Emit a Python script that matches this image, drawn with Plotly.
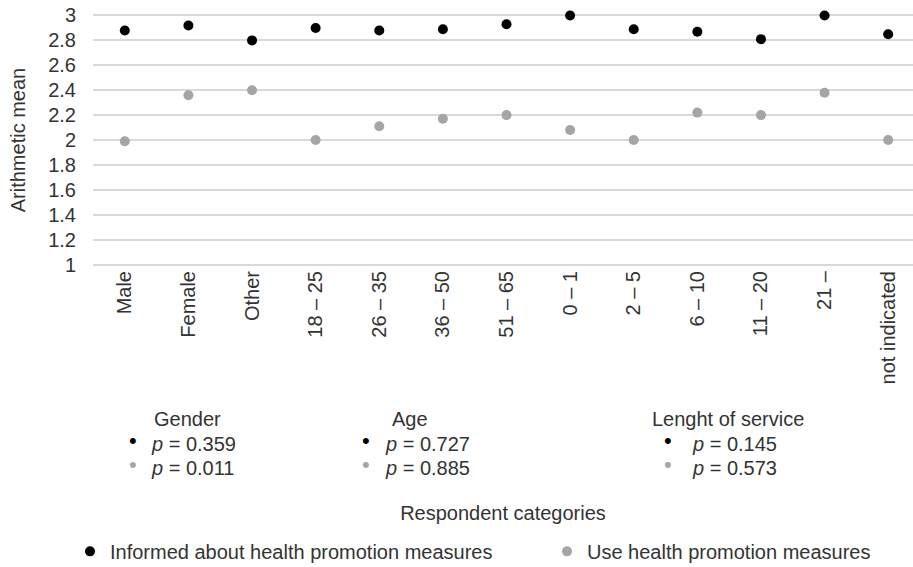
import plotly.graph_objects as go

categories = ["Male", "Female", "Other", "18 – 25", "26 – 35", "36 – 50", "51 – 65",
              "0 – 1", "2 – 5", "6 – 10", "11 – 20", "21 –", "not indicated"]
informed = [2.88, 2.92, 2.80, 2.90, 2.88, 2.89, 2.93, 3.00, 2.89, 2.87, 2.81, 3.00, 2.85]
use = [1.99, 2.36, 2.40, 2.00, 2.11, 2.17, 2.20, 2.08, 2.00, 2.22, 2.20, 2.38, 2.00]

series_names = ["Informed about health promotion measures", "Use health promotion measures"]
series_colors = ["#000000", "#a5a5a5"]

group_names = ["Gender", "Age", "Lenght of service"]
p_informed = ["0.359", "0.727", "0.145"]
p_use = ["0.011", "0.885", "0.573"]

Y_MIN, Y_MAX, Y_PAD = 1.0, 3.0, 0.012   # small pad so the 1 and 3 grid lines are drawn

W, H = 913, 567
PX_PER_UNIT = 125.0
ML = 93
MT = 15 - Y_PAD * PX_PER_UNIT
PH = (Y_MAX - Y_MIN + 2 * Y_PAD) * PX_PER_UNIT
PW = W - ML
MB = H - MT - PH


def sx(x):
    """screen x pixel -> paper x"""
    return (x - ML) / PW


def sy(y):
    """screen y pixel -> paper y"""
    return (MT + PH - y) / PH


FONT = "Liberation Sans, Arial, sans-serif"
TXT = "#333333"

fig = go.Figure()
for name, vals, col, lg in zip(series_names, [informed, use], series_colors, ["legend", "legend2"]):
    fig.add_trace(go.Scatter(
        x=categories, y=vals, mode="markers", name=name,
        marker=dict(color=col, size=10),
        cliponaxis=False, legend=lg,
    ))

# group annotations (p-values)
title_x = [187, 410, 728]
bullet_x = [133, 366, 668]
text_x = [149, 383, 690]
annots = []
for i, g in enumerate(group_names):
    annots.append(dict(x=sx(title_x[i]), y=sy(420), xref="paper", yref="paper",
                       text=g, showarrow=False, xanchor="center", yanchor="middle",
                       font=dict(size=20, color=TXT, family=FONT)))
    for row, (pv, col) in enumerate([(p_informed[i], series_colors[0]), (p_use[i], series_colors[1])]):
        yy = 445 + row * 24
        annots.append(dict(x=sx(bullet_x[i]), y=sy(yy - 3), xref="paper", yref="paper",
                           text="•", showarrow=False, xanchor="center", yanchor="middle",
                           font=dict(size=22, color=col, family=FONT)))
        annots.append(dict(x=sx(text_x[i]), y=sy(yy), xref="paper", yref="paper",
                           text="<i>p</i> = " + pv, showarrow=False, xanchor="left", yanchor="middle",
                           font=dict(size=20, color=TXT, family=FONT)))

legend_style = dict(orientation="h", xanchor="left", yanchor="middle",
                    font=dict(size=20, color=TXT, family=FONT), bgcolor="rgba(0,0,0,0)")

fig.update_layout(
    width=W, height=H,
    margin=dict(l=ML, r=0, t=MT, b=MB, autoexpand=False),
    paper_bgcolor="white", plot_bgcolor="white",
    font=dict(family=FONT, size=20, color=TXT),
    showlegend=True,
    legend=dict(x=sx(70), y=sy(553), **legend_style),
    legend2=dict(x=sx(547), y=sy(553), **legend_style),
    annotations=annots,
    xaxis=dict(
        range=[-0.5, 12.39], showgrid=False, showline=False, zeroline=False,
        tickangle=-90, ticks="", tickfont=dict(size=20, color=TXT),
        title=dict(text="Respondent categories", standoff=122, font=dict(size=20, color=TXT)),
        automargin=False,
    ),
    yaxis=dict(
        range=[Y_MIN - Y_PAD, Y_MAX + Y_PAD], dtick=0.2, tick0=1, showgrid=True,
        gridcolor="#d9d9d9", gridwidth=1.5,
        zeroline=False, showline=False, ticks="", tickfont=dict(size=20, color=TXT),
        ticklabelstandoff=16, ticklabeloverflow="allow",
        title=dict(text="Arithmetic mean", standoff=17, font=dict(size=20, color=TXT)),
        automargin=False,
    ),
)

fig.write_html("out.html",
               config={"displayModeBar": False},
               post_script="document.body.style.margin='0';document.body.style.overflow='hidden';")
